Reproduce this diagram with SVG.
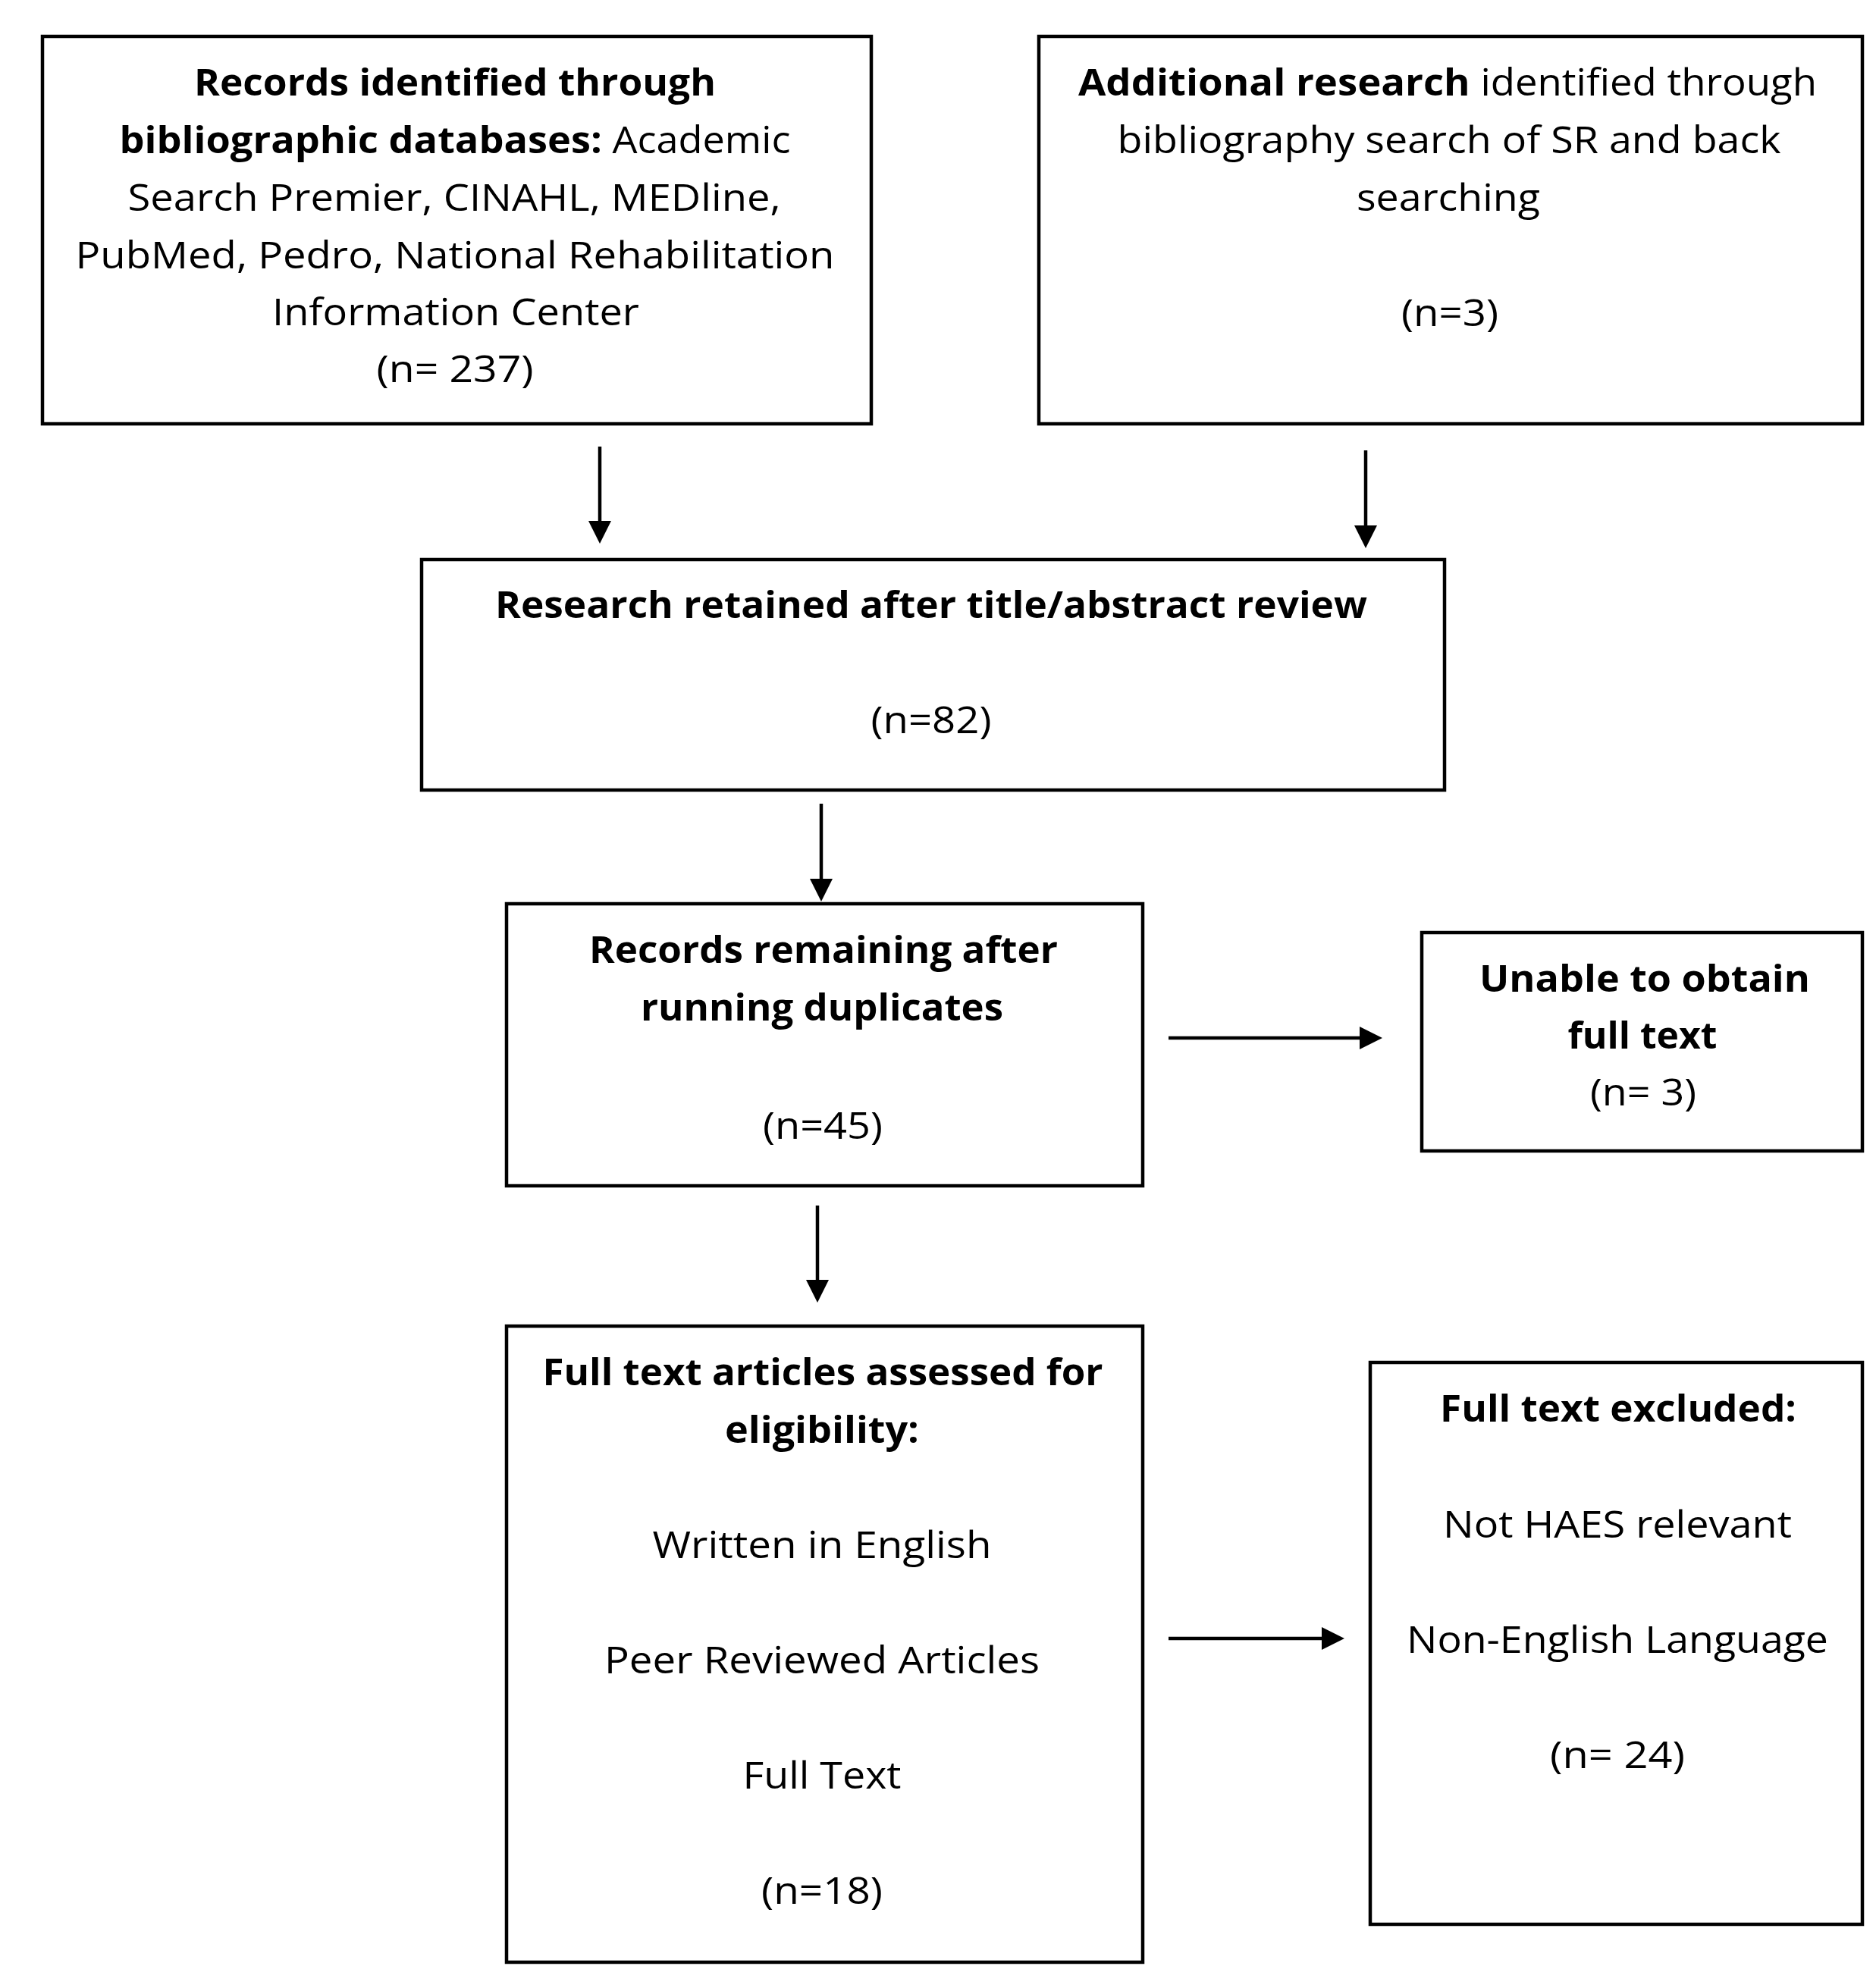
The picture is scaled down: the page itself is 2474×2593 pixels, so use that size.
<svg xmlns="http://www.w3.org/2000/svg" width="2474" height="2593" viewBox="0 0 2474 2593">
<defs>
<style>
.box{fill:#fff;stroke:#000;stroke-width:4.5}
.t{font-family:"Open Sans","Noto Sans","Liberation Sans",sans-serif;font-size:49px;fill:#000;text-anchor:middle}
.b{font-weight:700}
.c{stroke:#000;stroke-width:4.5;fill:none;marker-end:url(#ah)}
</style>
<marker id="ah" viewBox="0 0 30 30" refX="10" refY="15" markerWidth="30" markerHeight="30" markerUnits="userSpaceOnUse" orient="auto">
<path d="M0,0 L30,15 L0,30 z" fill="#000"/>
</marker>
</defs>
<rect width="2474" height="2593" fill="#fff"/>
<g id="connectors">
<line class="c" x1="791" y1="589" x2="791" y2="697"/>
<line class="c" x1="1801" y1="594" x2="1801" y2="703"/>
<line class="c" x1="1083" y1="1060" x2="1083" y2="1169"/>
<line class="c" x1="1078" y1="1590" x2="1078" y2="1698"/>
<line class="c" x1="1541" y1="1369" x2="1803" y2="1369"/>
<line class="c" x1="1541" y1="2161" x2="1753" y2="2161"/>
</g>
<g id="records-identified">
<rect class="box" x="56" y="48" width="1093" height="511"/>
<text class="t b" x="600" y="126" textLength="688" lengthAdjust="spacingAndGlyphs">Records identified through</text>
<text class="t" x="600" y="202" textLength="885" lengthAdjust="spacingAndGlyphs"><tspan class="b">bibliographic databases:</tspan> Academic</text>
<text class="t" x="599" y="278" textLength="861" lengthAdjust="spacingAndGlyphs">Search Premier, CINAHL, MEDline,</text>
<text class="t" x="600" y="354" textLength="1001" lengthAdjust="spacingAndGlyphs">PubMed, Pedro, National Rehabilitation</text>
<text class="t" x="601" y="429" textLength="484" lengthAdjust="spacingAndGlyphs">Information Center</text>
<text class="t" x="600" y="504" textLength="207" lengthAdjust="spacingAndGlyphs">(n= 237)</text>
</g>
<g id="additional-research">
<rect class="box" x="1370" y="48" width="1086" height="511"/>
<text class="t" x="1909" y="126" textLength="974" lengthAdjust="spacingAndGlyphs"><tspan class="b">Additional research</tspan> identified through</text>
<text class="t" x="1911" y="202" textLength="875" lengthAdjust="spacingAndGlyphs">bibliography search of SR and back</text>
<text class="t" x="1910" y="278" textLength="242" lengthAdjust="spacingAndGlyphs">searching</text>
<text class="t" x="1912" y="430" textLength="128" lengthAdjust="spacingAndGlyphs">(n=3)</text>
</g>
<g id="research-retained">
<rect class="box" x="556" y="738" width="1349" height="304"/>
<text class="t b" x="1228" y="815" textLength="1150" lengthAdjust="spacingAndGlyphs">Research retained after title/abstract review</text>
<text class="t" x="1228" y="967" textLength="159" lengthAdjust="spacingAndGlyphs">(n=82)</text>
</g>
<g id="records-remaining">
<rect class="box" x="668" y="1192" width="839" height="372"/>
<text class="t b" x="1086" y="1270" textLength="618" lengthAdjust="spacingAndGlyphs">Records remaining after</text>
<text class="t b" x="1084" y="1346" textLength="478" lengthAdjust="spacingAndGlyphs">running duplicates</text>
<text class="t" x="1085" y="1502" textLength="158" lengthAdjust="spacingAndGlyphs">(n=45)</text>
</g>
<g id="unable-to-obtain">
<rect class="box" x="1875" y="1230" width="581" height="288"/>
<text class="t b" x="2169" y="1308" textLength="436" lengthAdjust="spacingAndGlyphs">Unable to obtain</text>
<text class="t b" x="2166" y="1383" textLength="197" lengthAdjust="spacingAndGlyphs">full text</text>
<text class="t" x="2167" y="1458" textLength="140" lengthAdjust="spacingAndGlyphs">(n= 3)</text>
</g>
<g id="full-text-assessed">
<rect class="box" x="668" y="1749" width="839" height="839"/>
<text class="t b" x="1085" y="1827" textLength="739" lengthAdjust="spacingAndGlyphs">Full text articles assessed for</text>
<text class="t b" x="1084" y="1903" textLength="256" lengthAdjust="spacingAndGlyphs">eligibility:</text>
<text class="t" x="1084" y="2055" textLength="447" lengthAdjust="spacingAndGlyphs">Written in English</text>
<text class="t" x="1084" y="2207" textLength="574" lengthAdjust="spacingAndGlyphs">Peer Reviewed Articles</text>
<text class="t" x="1084" y="2359" textLength="209" lengthAdjust="spacingAndGlyphs">Full Text</text>
<text class="t" x="1084" y="2511" textLength="160" lengthAdjust="spacingAndGlyphs">(n=18)</text>
</g>
<g id="full-text-excluded">
<rect class="box" x="1807" y="1797" width="649" height="741"/>
<text class="t b" x="2134" y="1875" textLength="470" lengthAdjust="spacingAndGlyphs">Full text excluded:</text>
<text class="t" x="2133" y="2028" textLength="460" lengthAdjust="spacingAndGlyphs">Not HAES relevant</text>
<text class="t" x="2133" y="2180" textLength="556" lengthAdjust="spacingAndGlyphs">Non-English Language</text>
<text class="t" x="2133" y="2332" textLength="178" lengthAdjust="spacingAndGlyphs">(n= 24)</text>
</g>
</svg>
